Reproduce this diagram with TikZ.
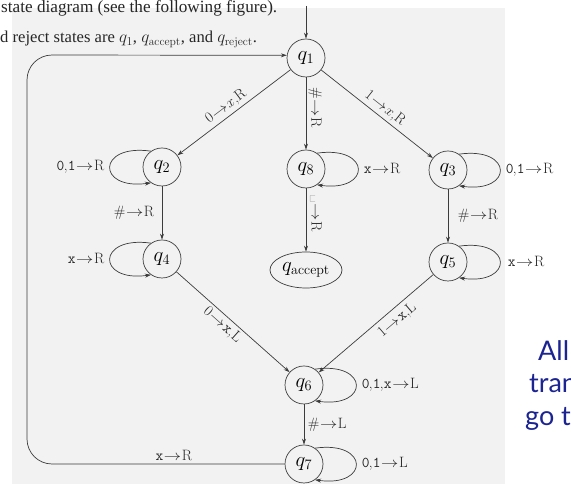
\documentclass[tikz,border=0pt]{standalone}
\usepackage{fontspec}
\usepackage{graphicx}
\usetikzlibrary{arrows.meta,shapes.geometric}
\newfontfamily\bookfont{Liberation Serif}
\newfontfamily\slidefont{Lato}
\definecolor{paper}{HTML}{F2F2F2}
\definecolor{ink}{HTML}{3C3C3C}
\definecolor{slideblue}{RGB}{28,36,145}
\newcommand\tto{\kern0.6pt\scalebox{1.2}[1]{$\rightarrow$}\kern0.6pt}
\newcommand\tp[1]{\texttt{#1}}
\newcommand\tc{\kern-0.6pt,\kern0.2pt}
\begin{document}
\begin{tikzpicture}[x=1pt,y=1pt,
  state/.style={circle,draw=ink,fill=paper,line width=0.7pt,minimum size=38pt,inner sep=0pt,font=\fontsize{20}{20}\selectfont},
  acc/.style={ellipse,draw=ink,fill=paper,line width=0.7pt,minimum width=72pt,minimum height=36pt,inner sep=0pt,font=\fontsize{20}{20}\selectfont},
  arr/.style={draw=ink,line width=0.7pt,-{Stealth[length=6pt,width=4pt]}},
  lbl/.style={font=\fontsize{15}{15}\selectfont,text=black!85,inner sep=2.5pt},
  book/.style={font=\bookfont\fontsize{17.2}{17.2}\selectfont,anchor=base west,inner sep=0pt,text=black!85},
  slide/.style={font=\slidefont\fontsize{27}{27}\selectfont,anchor=base west,inner sep=0pt,text=slideblue}]
\useasboundingbox (0,0) rectangle (571,484);
\fill[white] (0,0) rectangle (571,484);
\fill[paper] (12,0) rectangle (505,476);

% header text
\node[book] (t1) at (1,471) {state diagram (see the following figure).};
\node[book,font=\bookfont\fontsize{16.6}{16.6}\selectfont] (t2) at (0,441) {d reject states are $q_1$, $q_{\mathrm{accept}}$, and $q_{\mathrm{reject}}$.};

% slide text
\node[slide] (s1) at (538,123) {All};
\node[slide] (s2) at (529,91) {tran};
\node[slide] (s3) at (525,58) {go t};

% states
\node[state] (q1) at (306,426) {$q_1$};
\node[state] (q2) at (162,317) {$q_2$};
\node[state] (q4) at (162,225) {$q_4$};
\node[state] (q8) at (306,315) {$q_8$};
\node[acc]   (qa) at (306,214) {$q_{\mathrm{accept}}$};
\node[state] (q3) at (448,314) {$q_3$};
\node[state] (q5) at (448,222) {$q_5$};
\node[state] (q6) at (304,99) {$q_6$};
\node[state] (q7) at (304,20) {$q_7$};

\coordinate (start) at (306,478);
\coordinate (cb) at (27,20);
\coordinate (ct) at (27,429);

% edges
\draw[arr] (start) -- (q1);
\draw[arr] (q1) -- node[lbl,sloped,above,pos=0.52]{0\tto$x$,R} (q2);
\draw[arr] (q1) -- node[lbl,pos=0.42,xshift=9pt,rotate=-90]{\#\tto R} (q8);
\draw[arr] (q1) -- node[lbl,sloped,above,pos=0.52]{1\tto$x$,R} (q3);
\draw[arr] (q2) -- node[lbl,left=5pt]{\#\tto R} (q4);
\draw[arr] (q8) -- node[lbl,pos=0.4,xshift=10pt,rotate=-90]{\textvisiblespace\tto R} (qa);
\draw[arr] (q3) -- node[lbl,right=7pt]{\#\tto R} (q5);
\draw[arr] (q4) -- node[lbl,sloped,below,pos=0.46]{0\tto\tp{x},L} (q6);
\draw[arr] (q5) -- node[lbl,sloped,below=2pt,pos=0.38]{1\tto\tp{x},L} (q6);
\draw[arr] (q6) -- node[lbl,right=1pt]{\#\tto L} (q7);
\draw[arr,rounded corners=25pt] (q7) -- node[lbl,above,pos=0.43]{\tp{x}\tto R} (cb) -- (ct) -- (q1.172);

% loops
\draw[arr] (q2.125) .. controls +(172:55) and +(-172:55) .. node[lbl,left=3pt,pos=0.5]{\tp{0}\tc\tp{1}\tto R} (q2.-125);
\draw[arr] (q4.125) .. controls +(172:55) and +(-172:55) .. node[lbl,left=3pt,pos=0.5]{\tp{x}\tto R} (q4.-125);
\draw[arr] (q8.55) .. controls +(8:55) and +(-8:55) .. node[lbl,right=3pt,pos=0.5]{\tp{x}\tto R} (q8.-55);
\draw[arr] (q3.55) .. controls +(8:55) and +(-8:55) .. node[lbl,right=3pt,pos=0.5]{\tp{0}\tc\tp{1}\tto R} (q3.-55);
\draw[arr] (q5.55) .. controls +(8:55) and +(-8:55) .. node[lbl,right=5pt,pos=0.5]{\tp{x}\tto R} (q5.-55);
\draw[arr] (q6.55) .. controls +(8:55) and +(-8:55) .. node[lbl,right=3pt,pos=0.5]{\tp{0}\tc\tp{1}\tc\tp{x}\tto L} (q6.-55);
\draw[arr] (q7.55) .. controls +(8:55) and +(-8:55) .. node[lbl,right=3pt,pos=0.5]{\tp{0}\tc\tp{1}\tto L} (q7.-55);
\end{tikzpicture}
\end{document}
